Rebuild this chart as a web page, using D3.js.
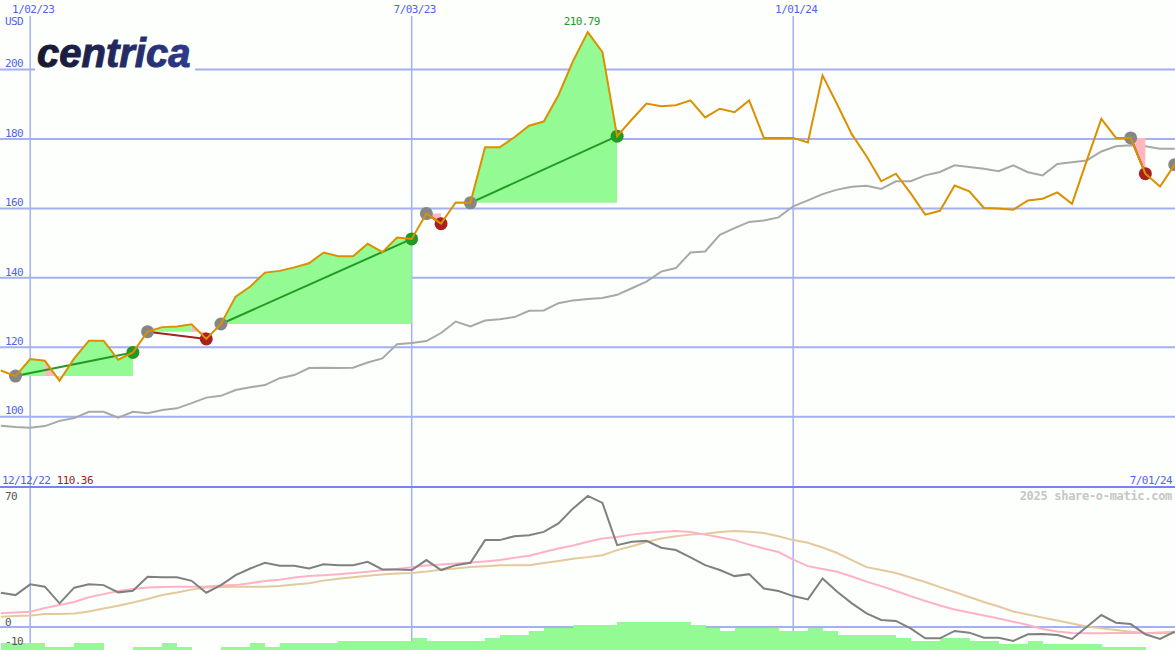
<!DOCTYPE html>
<html>
<head>
<meta charset="utf-8">
<script src="https://cdn.jsdelivr.net/npm/d3@7"></script>
<style>
body { margin: 0; background: #fcfffc; overflow: hidden; }
svg { display: block; }
text { font-family: "DejaVu Sans Mono", monospace; font-size: 11px; letter-spacing: -0.6px; }
</style>
</head>
<body>
<svg width="1175" height="650"></svg>
<script>
// weekly closes, 19 Dec 2022 .. 1 Jul 2024 (index 0..80)
const price = [113.3, 111.7, 116.6, 116.1, 110.36, 116.8, 121.9, 121.9, 116.4, 118.5,
  124.5, 125.8, 126.0, 126.6, 122.4, 126.7, 134.6, 137.5, 141.5, 142.0,
  143.0, 144.2, 147.3, 146.2, 146.2, 149.8, 147.4, 151.6, 151.2, 158.5,
  155.6, 161.7, 161.6, 177.6, 177.6, 180.5, 183.8, 185.0, 192.6, 202.5,
  210.79, 205.0, 180.8, 185.6, 190.2, 189.4, 189.7, 191.1, 186.2, 188.7,
  187.7, 191.1, 180.3, 180.3, 180.3, 179.0, 198.3, 189.9, 181.3, 175.0,
  167.8, 170.0, 164.4, 158.2, 159.3, 166.6, 164.9, 160.1, 160.0, 159.6,
  162.3, 162.8, 164.6, 161.3, 173.7, 185.8, 180.3, 180.3, 170.0, 166.3, 172.6];

const average = [97.4, 97.0, 96.8, 97.3, 98.8, 99.6, 101.4, 101.4, 99.7, 101.4,
  101.0, 101.9, 102.4, 103.9, 105.5, 106.0, 107.7, 108.5, 109.1, 111.1,
  112.0, 114.0, 114.1, 114.0, 114.1, 115.6, 116.8, 120.9, 121.2, 121.8,
  124.1, 127.4, 126.0, 127.7, 128.1, 128.7, 130.5, 130.6, 132.7, 133.5,
  133.9, 134.2, 135.1, 137.0, 138.9, 141.8, 142.8, 147.3, 147.6, 152.4,
  154.3, 156.1, 156.5, 157.4, 160.6, 162.3, 164.1, 165.4, 166.2, 166.5,
  165.6, 167.8, 167.8, 169.5, 170.5, 172.4, 171.9, 171.4, 170.7, 172.4,
  170.4, 169.5, 172.8, 173.3, 173.8, 176.4, 177.9, 178.2, 177.9, 177.2, 177.2];

const oscillator = [17.5, 16.3, 21.8, 20.6, 12.1, 20.1, 21.8, 21.4, 17.7, 18.5,
  25.7, 25.4, 25.4, 23.6, 17.5, 21.4, 26.5, 29.9, 32.8, 31.3,
  31.3, 29.9, 32.1, 31.6, 31.6, 33.3, 29.4, 29.4, 29.1, 34.2,
  29.1, 31.6, 32.8, 44.4, 44.4, 46.4, 46.9, 48.6, 52.9, 60.6,
  67.0, 63.4, 41.8, 43.5, 44.0, 40.5, 39.3, 35.6, 31.6, 29.1,
  26.0, 27.0, 19.7, 18.4, 15.8, 14.1, 24.8, 18.0, 12.1, 7.0,
  3.6, 3.1, -0.7, -5.8, -5.8, -2.0, -2.9, -5.5, -5.5, -7.1,
  -3.7, -3.6, -4.1, -6.1, 0.0, 6.1, 2.2, 1.5, -3.7, -6.1, -2.4];

const signalFast = [7.0, 7.4, 7.8, 9.7, 11.2, 12.8, 15.2, 16.8, 18.4, 19.4,
  20.2, 20.4, 20.6, 20.6, 20.7, 21.2, 21.4, 22.4, 23.5, 24.2,
  25.3, 26.0, 26.5, 27.0, 27.6, 28.2, 29.1, 29.7, 30.5, 31.4,
  31.9, 32.4, 32.9, 33.5, 34.2, 35.4, 36.4, 38.3, 40.1, 41.6,
  43.6, 45.2, 46.0, 47.2, 48.0, 48.7, 49.0, 48.5, 47.2, 45.9,
  44.4, 42.1, 40.1, 38.3, 34.4, 31.1, 29.6, 28.2, 25.8, 23.2,
  20.9, 18.4, 15.8, 13.3, 11.0, 8.9, 7.4, 5.9, 4.3, 2.7,
  1.0, -1.0, -2.3, -3.1, -3.2, -3.2, -3.1, -2.9, -3.2, -2.8, -2.4];

const signalSlow = [5.3, 5.6, 5.9, 6.6, 6.6, 6.9, 7.9, 9.4, 10.9, 12.5,
  14.3, 16.3, 17.6, 19.1, 20.2, 20.4, 20.6, 20.6, 20.6, 20.9,
  21.7, 22.4, 23.7, 24.6, 25.4, 26.2, 26.8, 27.3, 27.6, 28.3,
  29.3, 29.9, 30.6, 31.1, 31.5, 31.5, 31.5, 32.7, 33.7, 34.9,
  35.7, 36.7, 39.3, 41.3, 43.4, 45.2, 46.4, 47.2, 47.7, 48.5,
  49.1, 48.7, 48.0, 46.4, 44.4, 43.0, 40.6, 37.8, 34.2, 30.6,
  29.1, 27.6, 25.3, 23.0, 20.4, 17.9, 15.3, 12.8, 10.5, 7.9,
  6.4, 4.8, 3.3, 1.8, 0.3, -0.7, -1.5, -2.4, -3.1, -3.2, -2.9];

const volume = [6.7, 6.7, 6.7, 3.3, 3.3, 6.7, 6.7, 0, 0, 3.3,
  3.3, 6.7, 3.3, 0, 0, 3.3, 3.3, 6.7, 3.3, 6.7,
  6.7, 6.7, 6.7, 9, 9, 9, 9, 9, 11.7, 9,
  9, 9, 9, 11.7, 15, 15, 19, 22.3, 22.3, 25,
  25, 25, 27.7, 27.7, 27.7, 27.7, 27.7, 25, 22.3, 19,
  22.3, 22.3, 22.3, 19, 19, 22.3, 19, 15, 15, 15,
  15, 11.7, 9, 9, 11.7, 11.7, 9, 9, 6, 6,
  9, 6, 6, 6, 6, 2.7, 2.7, 2.7, 0, 0, 0];

// [buy index, sell index]
const trades = [[1, 9], [10, 14], [15, 28], [29, 30], [32, 42], [77, 78]];
const openBuys = [80];

const priceTicks = [100, 120, 140, 160, 180, 200];
const oscTicks = [70, 0, -10];
const dateTicks = [[2, '1/02/23'], [28, '7/03/23'], [54, '1/01/24']];
const startDate = '12/12/22';
const endDate = '7/01/24';

const svg = d3.select('svg');
const W = 1175, H = 650;
const bg = '#fcfffc';
const gridColor = '#a4b0f0';
const textBlue = '#5262ee';
const fillUp = '#94fa94', fillDown = '#ffb6c1';

const x = d3.scaleLinear().domain([2, 54]).range([30.2, 793.2]);
const y = d3.scaleLinear().domain([100, 200]).range([416.7, 69.5]);
const yo = d3.scaleLinear().domain([0, 70]).range([627, 490]);
const yv = d3.scaleLinear().domain([0, 30]).range([650, 620]);
const idx = d3.range(price.length);

svg.append('rect').attr('width', W).attr('height', H).attr('fill', bg);

// grid
svg.append('g').selectAll('line').data(priceTicks).join('line')
  .attr('x1', 0).attr('x2', W)
  .attr('y1', d => y(d)).attr('y2', d => y(d))
  .attr('stroke', gridColor).attr('stroke-width', 2);

svg.append('g').selectAll('line').data(dateTicks).join('line')
  .attr('x1', d => x(d[0])).attr('x2', d => x(d[0]))
  .attr('y1', 16).attr('y2', H)
  .attr('stroke', gridColor).attr('stroke-width', 1.5);

svg.append('line')
  .attr('x1', 0).attr('x2', W).attr('y1', yo(0)).attr('y2', yo(0))
  .attr('stroke', gridColor).attr('stroke-width', 2);

// logo
const defs = svg.append('defs');
const grad = defs.append('linearGradient').attr('id', 'logoGrad')
  .attr('x1', '0%').attr('x2', '100%');
grad.append('stop').attr('offset', '0%').attr('stop-color', '#17172e');
grad.append('stop').attr('offset', '100%').attr('stop-color', '#2e3a8c');

svg.append('rect').attr('x', 35).attr('y', 34).attr('width', 160).attr('height', 38).attr('fill', bg);
svg.append('text')
  .attr('x', 37).attr('y', 66.7)
  .style('font-family', '"Liberation Sans", Arial, sans-serif')
  .style('font-size', '40px').style('font-weight', 'bold').style('font-style', 'italic')
  .style('letter-spacing', '0px')
  .attr('fill', 'url(#logoGrad)')
  .attr('stroke', 'url(#logoGrad)').attr('stroke-width', 1)
  .text('centrica');

// volume bars
svg.append('g').attr('shape-rendering', 'crispEdges')
  .selectAll('rect').data(idx.slice(0, -1)).join('rect')
  .attr('x', i => x(i)).attr('width', i => x(i + 1) - x(i) + 0.5)
  .attr('y', i => yv(volume[i])).attr('height', i => yv(0) - yv(volume[i]))
  .attr('fill', fillUp);

// lower panel lines
const oscLine = arr => d3.line().x(i => x(i)).y(i => yo(arr[i]))(idx);
svg.append('path').attr('d', oscLine(signalSlow)).attr('fill', 'none').attr('stroke', '#e4c99c').attr('stroke-width', 2);
svg.append('path').attr('d', oscLine(signalFast)).attr('fill', 'none').attr('stroke', '#ffb2c6').attr('stroke-width', 2);
svg.append('path').attr('d', oscLine(oscillator)).attr('fill', 'none').attr('stroke', '#808080').attr('stroke-width', 2);

svg.append('line')
  .attr('x1', 0).attr('x2', W).attr('y1', 487).attr('y2', 487)
  .attr('stroke', '#7484f0').attr('stroke-width', 2);

// moving average
svg.append('path')
  .attr('d', d3.line().x(i => x(i)).y(i => y(average[i]))(idx))
  .attr('fill', 'none').attr('stroke', '#a8a8a8').attr('stroke-width', 2);

// trade fills against the buy level; runs of same-coloured segments merged
const fills = svg.append('g');
trades.forEach(([b, s]) => {
  const base = price[b];
  const area = d3.area().x(i => x(i)).y0(y(base)).y1(i => y(price[i]));
  const up = k => price[k + 1] >= base;
  let start = b;
  for (let k = b; k < s; k++) {
    if (k === s - 1 || up(k + 1) !== up(k)) {
      fills.append('path')
        .attr('d', area(d3.range(start, k + 2)))
        .attr('fill', up(k) ? fillUp : fillDown);
      start = k + 1;
    }
  }
});

// trade lines
svg.append('g').selectAll('line').data(trades).join('line')
  .attr('x1', d => x(d[0])).attr('y1', d => y(price[d[0]]))
  .attr('x2', d => x(d[1])).attr('y2', d => y(price[d[1]]))
  .attr('stroke', d => price[d[1]] >= price[d[0]] ? '#229a22' : '#a82020')
  .attr('stroke-width', 2);

// markers
const markers = [];
trades.forEach(([b, s]) => {
  markers.push({ i: b, c: '#868686' });
  markers.push({ i: s, c: price[s] >= price[b] ? '#229a22' : '#a82020' });
});
openBuys.forEach(b => markers.push({ i: b, c: '#868686' }));
svg.append('g').selectAll('circle').data(markers).join('circle')
  .attr('cx', d => x(d.i)).attr('cy', d => y(price[d.i]))
  .attr('r', 6.5).attr('fill', d => d.c);

// price line
svg.append('path')
  .attr('d', d3.line().x(i => x(i)).y(i => y(price[i]))(idx))
  .attr('fill', 'none').attr('stroke', '#dc9000').attr('stroke-width', 2);

// labels
svg.append('text').attr('x', 5).attr('y', 25).attr('fill', textBlue).text('USD');
svg.append('g').selectAll('text').data(priceTicks).join('text')
  .attr('x', 5).attr('y', d => y(d) - 2.3).attr('fill', textBlue).text(d => d);

svg.append('g').selectAll('text').data(dateTicks).join('text')
  .attr('x', d => x(d[0]) + 3).attr('y', 13).attr('text-anchor', 'middle')
  .attr('fill', textBlue).text(d => d[1]);

const maxV = d3.max(price), maxI = price.indexOf(maxV);
const minV = d3.min(price);
svg.append('text')
  .attr('x', x(maxI) - 6).attr('y', y(maxV) - 7.5).attr('text-anchor', 'middle')
  .attr('fill', '#229a22').text(d3.format('.2f')(maxV));

const startText = svg.append('text').attr('x', 2).attr('y', 483.5).attr('fill', textBlue).text(startDate);
startText.append('tspan').attr('dx', 6.6).attr('fill', '#a01c1c').text(d3.format('.2f')(minV));

svg.append('text').attr('x', 1172).attr('y', 483.5).attr('text-anchor', 'end')
  .attr('fill', textBlue).text(endDate);

svg.append('text').attr('x', 1172).attr('y', 500).attr('text-anchor', 'end')
  .style('font-size', '12px').style('font-weight', 'bold').style('letter-spacing', '-0.3px')
  .attr('fill', '#c6c6c6').text('2025 share-o-matic.com');

svg.append('g').selectAll('text').data(oscTicks).join('text')
  .attr('x', 5).attr('y', d => d === 70 ? 499.5 : yo(d) - 1.5)
  .attr('fill', '#555').text(d => d);
</script>
</body>
</html>
